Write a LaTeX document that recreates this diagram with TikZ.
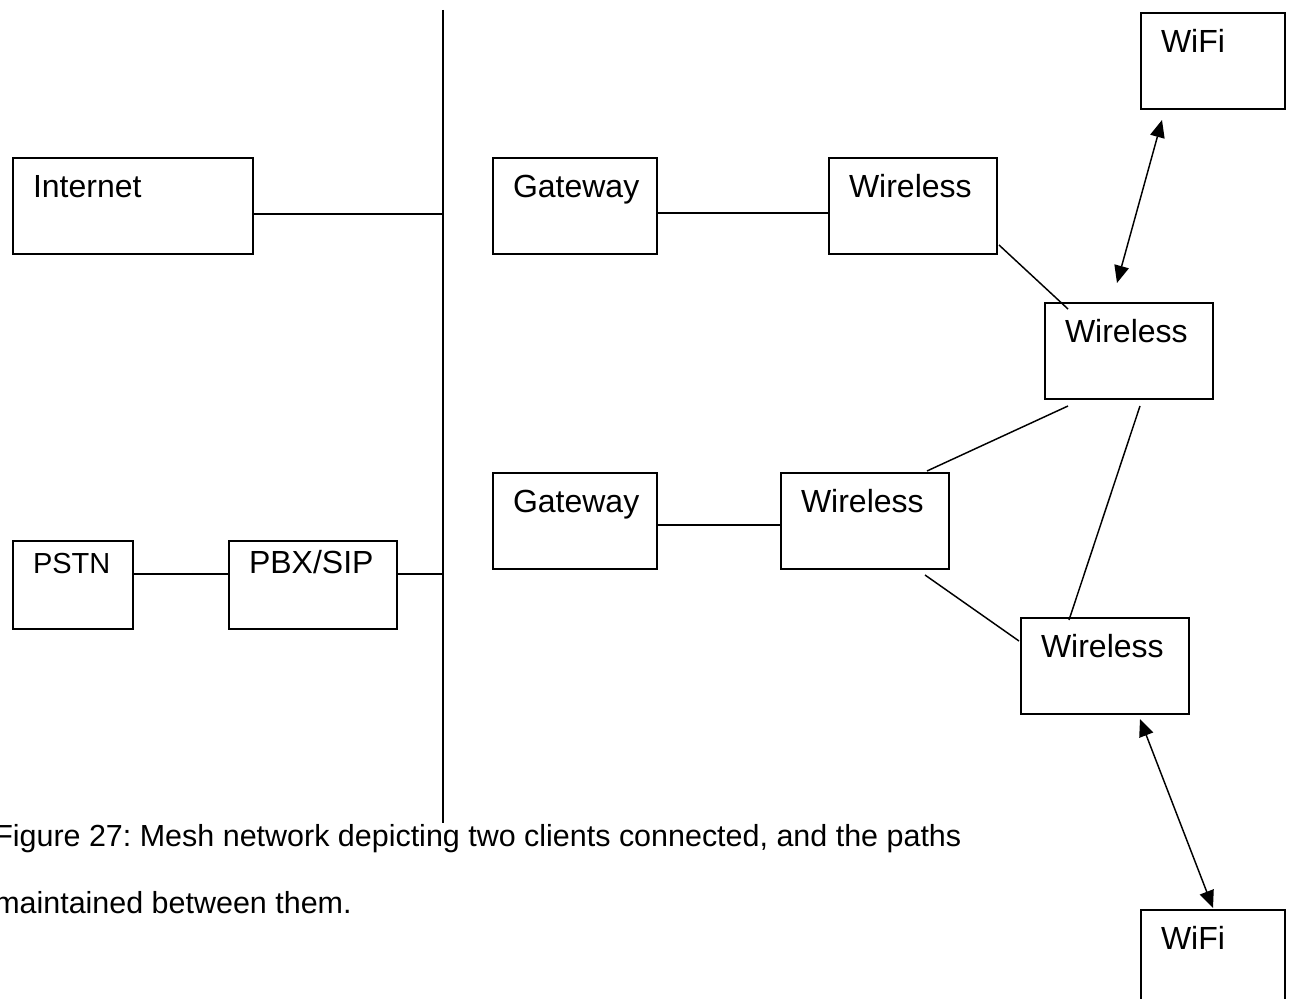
\documentclass[tikz,border=0pt]{standalone}
\usepackage{fontspec}
\setmainfont{Liberation Sans}
\usetikzlibrary{arrows.meta,calc}
\frenchspacing

\begin{document}
\begin{tikzpicture}[x=0.75pt,y=-0.75pt,
  box/.style={draw, line width=1.5pt, anchor=north west, inner xsep=0pt, inner ysep=0pt,
    align=left, text width=#1, font=\fontsize{24}{28}\selectfont,
    text height=29.5pt, text depth=42.5pt, execute at begin node={\hspace*{15pt}}},
  shortbox/.style={box=#1, text height=24pt, text depth=42pt},
  wire/.style={line width=1.5pt},
  mesh/.style={line width=1.1pt},
  twoway/.style={line width=1.1pt, {Triangle[length=13pt,width=11pt]}-{Triangle[length=13pt,width=11pt]}},
  capt/.style={anchor=base west, inner sep=0pt, font=\fontsize{22.85}{26}\selectfont}
]
\useasboundingbox (0,0) rectangle (1290,999);

% backbone
\coordinate (bustop) at (443,10);
\coordinate (busbot) at (443,823);
\draw[wire] (bustop) -- (busbot);

% left side
\node[box=180pt] (inet) at (12,157) {Internet};
\node[shortbox=90pt, font=\fontsize{21.75}{26}\selectfont] (pstn) at (12,540) {PSTN};
\node[shortbox=126pt] (pbx) at (228,540) {PBX/SIP};

% mesh side
\node[box=123pt] (gw1) at (492,157) {Gateway};
\node[box=126pt] (wl1) at (828,157) {Wireless};
\node[box=126pt] (wl2) at (1044,302) {Wireless};
\node[box=108pt] (wifi1) at (1140,12) {WiFi};
\node[box=123pt] (gw2) at (492,472) {Gateway};
\node[box=126pt] (wl3) at (780,472) {Wireless};
\node[box=126pt] (wl4) at (1020,617) {Wireless};
\node[box=108pt] (wifi2) at (1140,909) {WiFi};

% wired links
\draw[wire] ([yshift=-6pt]inet.east) -- ([yshift=-6pt]inet.east -| bustop);
\draw[wire] ([yshift=8.25pt]pstn.east) -- ([yshift=8.25pt]pstn.east -| pbx.west);
\draw[wire] ([yshift=8.25pt]pbx.east) -- ([yshift=8.25pt]pbx.east -| bustop);
\draw[wire] ([yshift=-5.5pt]gw1.east) -- ([yshift=-5.5pt]gw1.east -| wl1.west);
\draw[wire] ([yshift=-3pt]gw2.east) -- ([yshift=-3pt]gw2.east -| wl3.west);

% mesh links
\draw[mesh] ($(wl1.south east)+(1,-10)$) -- ($(wl2.north west)+(24,7)$);
\draw[mesh] ($(wl3.north east)+(-23,-1)$) -- ($(wl2.south west)+(24,6)$);
\draw[mesh] ($(wl3.south east)+(-25,5)$) -- ($(wl4.north west)+(-1,24)$);
\draw[mesh] ($(wl2.south)+(11,6)$) -- ($(wl4.north)+(-36,3)$);

% client links
\draw[twoway] ($(wifi1.south west)+(22,10)$) -- ($(wl2.north)+(-12,-19)$);
\draw[twoway] ($(wl4.south east)+(-50,4)$) -- ($(wifi2.north)+(0,-1)$);

% caption
\node[capt] (cap1) at (-6,846) {Figure 27: Mesh network depicting two clients connected, and the paths};
\node[capt] (cap2) at (-6,913) {maintained between them.};
\end{tikzpicture}
\end{document}
